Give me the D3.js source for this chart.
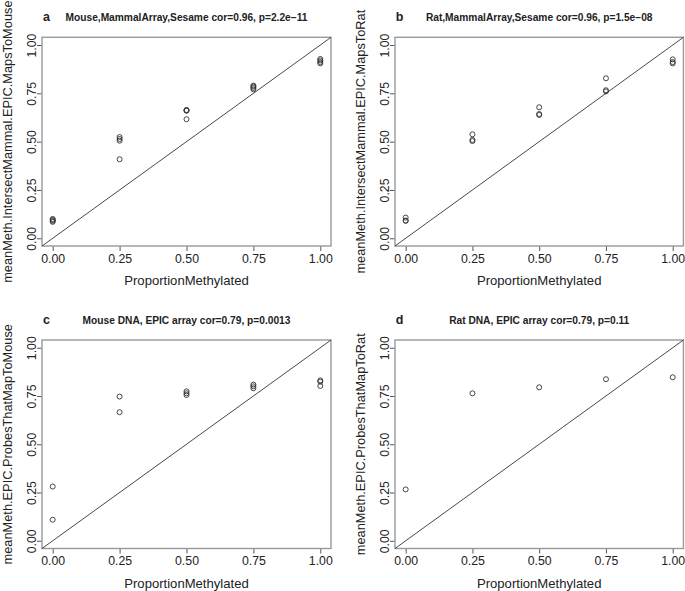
<!DOCTYPE html>
<html><head><meta charset="utf-8">
<script src="https://cdn.jsdelivr.net/npm/d3@7"></script>
<style>body{margin:0;background:#fff}svg{display:block;font-family:"Liberation Sans",Arial,sans-serif}</style>
</head><body><svg id="c" width="685" height="591"></svg>
<script>
const xTicks = [0, 0.25, 0.5, 0.75, 1];
const tickLabels = ["0.00", "0.25", "0.50", "0.75", "1.00"];
const panelLetters = ["a", "b", "c", "d"];
const panelTitles = [
  "Mouse,MammalArray,Sesame cor=0.96, p=2.2e\u221211",
  "Rat,MammalArray,Sesame cor=0.96, p=1.5e\u221208",
  "Mouse DNA, EPIC array cor=0.79, p=0.0013",
  "Rat DNA, EPIC array cor=0.79, p=0.11"
];
const xTitle = "ProportionMethylated";
const yTitles = [
  "meanMeth.IntersectMammal.EPIC.MapsToMouse",
  "meanMeth.IntersectMammal.EPIC.MapsToRat",
  "meanMeth.EPIC.ProbesThatMapToMouse",
  "meanMeth.EPIC.ProbesThatMapToRat"
];
const aX = [0,0,0,0, 0.25,0.25,0.25,0.25, 0.5,0.5,0.5,0.5, 0.75,0.75,0.75,0.75, 1,1,1,1];
const aY = [0.100,0.095,0.090,0.085, 0.524,0.514,0.505,0.409, 0.664,0.662,0.660,0.616, 0.790,0.785,0.778,0.771, 0.928,0.920,0.912,0.905];
const bX = [0,0,0, 0.25,0.25,0.25, 0.5,0.5,0.5, 0.75,0.75,0.75, 1,1,1];
const bY = [0.107,0.092,0.090, 0.538,0.509,0.503, 0.678,0.643,0.638, 0.828,0.766,0.760, 0.926,0.912,0.905];
const cX = [0,0, 0.25,0.25, 0.5,0.5,0.5, 0.75,0.75,0.75, 1,1,1];
const cY = [0.281,0.109, 0.747,0.666, 0.774,0.764,0.755, 0.809,0.800,0.790, 0.831,0.824,0.802];
const dX = [0, 0.25, 0.5, 0.75, 1];
const dY = [0.266, 0.764, 0.795, 0.837, 0.847];

const panelsX = [aX, bX, cX, dX];
const panelsY = [aY, bY, cY, dY];
const boxes = [
  {l: 42, r: 331, t: 37.3, b: 246},
  {l: 395, r: 683.4, t: 37.3, b: 246},
  {l: 42, r: 331, t: 340, b: 548.5},
  {l: 395, r: 683.4, t: 340, b: 548.5}
];
const svg = d3.select("#c");
const ink = "#222";

boxes.forEach((bx, i) => {
  const x = d3.scaleLinear().domain([-0.04, 1.04]).range([bx.l, bx.r]);
  const y = d3.scaleLinear().domain([-0.04, 1.04]).range([bx.b, bx.t]);
  const g = svg.append("g");

  const xa = g.append("g").attr("transform", `translate(0,${bx.b})`)
    .call(d3.axisBottom(x).tickValues(xTicks).tickFormat((d, k) => tickLabels[k]).tickSize(5).tickPadding(3));
  xa.select(".domain").remove();
  xa.selectAll("line").attr("stroke", "#555");
  xa.selectAll("text").attr("font-size", 12.3).attr("fill", ink).attr("font-family", "Liberation Sans, Arial, sans-serif");

  const ya = g.append("g").attr("transform", `translate(${bx.l},0)`)
    .call(d3.axisLeft(y).tickValues(xTicks).tickFormat(() => "").tickSize(5));
  ya.select(".domain").remove();
  ya.selectAll("line").attr("stroke", "#555");
  ya.selectAll(".tick").append("text")
    .attr("transform", "translate(-6.5,0) rotate(-90)")
    .attr("text-anchor", "middle")
    .attr("font-size", 12.3).attr("fill", ink)
    .attr("font-family", "Liberation Sans, Arial, sans-serif")
    .text((d, k) => tickLabels[k]);

  g.append("rect").attr("x", bx.l).attr("y", bx.t)
    .attr("width", bx.r - bx.l).attr("height", bx.b - bx.t)
    .attr("fill", "none").attr("stroke", "#999").attr("stroke-width", 1.4);

  g.append("line")
    .attr("x1", x(-0.04)).attr("y1", y(-0.04))
    .attr("x2", x(1.04)).attr("y2", y(1.04))
    .attr("stroke", "#333").attr("stroke-width", 0.9);

  g.append("g").selectAll("circle")
    .data(panelsX[i].map((v, k) => [v, panelsY[i][k]]))
    .join("circle")
    .attr("cx", d => x(d[0])).attr("cy", d => y(d[1])).attr("r", 2.5)
    .attr("fill", "none").attr("stroke", "#333").attr("stroke-width", 0.9);

  g.append("text").attr("x", (bx.l + bx.r) / 2).attr("y", bx.b + 39)
    .attr("text-anchor", "middle").attr("font-size", 13.1).attr("fill", ink)
    .text(xTitle);

  const cy = (bx.t + bx.b) / 2;
  g.append("text").attr("transform", `translate(${bx.l - 30.5},${cy}) rotate(-90)`)
    .attr("text-anchor", "middle").attr("font-size", 12.8).attr("fill", ink)
    .text(yTitles[i]);

  g.append("text").attr("x", (bx.l + bx.r) / 2).attr("y", bx.t - 16.5)
    .attr("text-anchor", "middle").attr("font-size", 10.2).attr("font-weight", "bold").attr("fill", ink)
    .text(panelTitles[i]);

  g.append("text").attr("x", bx.l + 4.5).attr("y", bx.t - 16.5)
    .attr("text-anchor", "middle").attr("font-size", 12.5).attr("font-weight", "bold").attr("fill", ink)
    .text(panelLetters[i]);
});
</script></body></html>
